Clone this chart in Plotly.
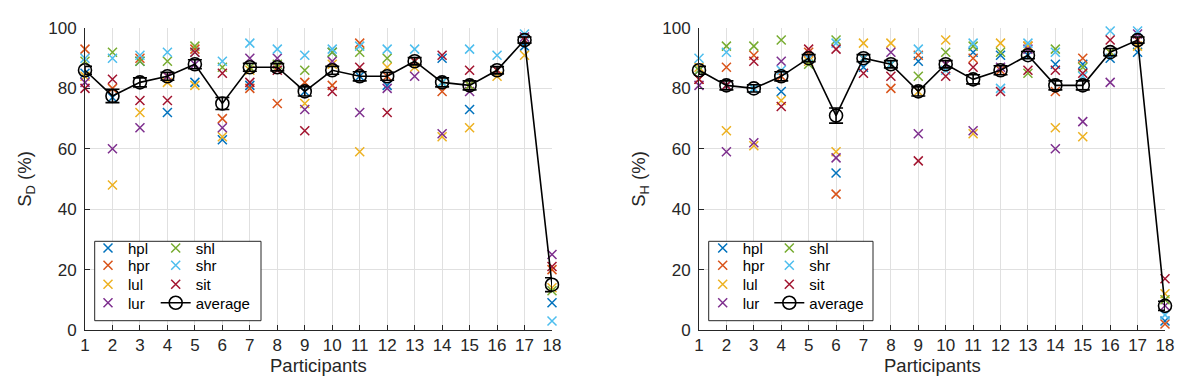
import plotly.graph_objects as go

participants = list(range(1, 19))
series_names = ["hpl", "hpr", "lul", "lur", "shl", "shr", "sit"]
series_colors = ["#0072BD", "#D95319", "#EDB120", "#7E2F8E", "#77AC30", "#4DBEEE", "#A2142F"]

# ---- S_D (left panel) ----
sd_hpl = [85, 77, 89, 72, 82, 63, 81, 87, 79, 92, 84, 81, 89, 90, 73, 86, 94, 9]
sd_hpr = [93, 80, 90, 84, 93, 70, 80, 75, 82, 81, 95, 84, 89, 79, 81, 86, 96, 20]
sd_lul = [84, 48, 72, 82, 81, 64, 86, 87, 75, 88, 59, 87, 87, 64, 67, 84, 91, 14]
sd_lur = [82, 60, 67, 84, 88, 67, 90, 90, 73, 89, 72, 80, 84, 65, 79, 86, 97, 25]
sd_shl = [89, 92, 89, 89, 94, 87, 87, 88, 86, 92, 92, 90, 89, 82, 81, 86, 96, 13]
sd_shr = [90, 90, 91, 92, 92, 89, 95, 93, 91, 93, 94, 93, 93, 82, 93, 91, 98, 3]
sd_sit = [80, 83, 76, 76, 92, 85, 82, 86, 66, 79, 87, 72, 89, 91, 86, 86, 96, 21]
sd_avg = [86, 77.5, 82, 84, 88, 75, 87, 87, 79, 86, 84, 84, 89, 82, 81, 86, 96, 15]
sd_err = [1.3, 2.2, 1.5, 1.3, 1.5, 2.0, 1.3, 1.2, 1.5, 1.3, 1.5, 1.3, 1.2, 1.5, 1.5, 1.2, 1.0, 2.3]

# ---- S_H (right panel) ----
sh_hpl = [86, 81, 80, 79, 90, 52, 87, 88, 89, 88, 92, 91, 91, 88, 88, 90, 92, 3]
sh_hpr = [83, 87, 91, 84, 92, 45, 90, 80, 91, 88, 90, 86, 94, 79, 90, 92, 96, 2]
sh_lul = [87, 66, 61, 76, 89, 59, 95, 95, 79, 96, 65, 95, 94, 67, 64, 92, 94, 12]
sh_lur = [81, 59, 62, 89, 90, 57, 90, 92, 65, 88, 66, 87, 93, 60, 69, 82, 98, 8]
sh_shl = [86, 94, 94, 96, 88, 96, 90, 88, 84, 92, 94, 92, 85, 93, 87, 92, 96, 10]
sh_shr = [90, 92, 80, 86, 90, 95, 90, 88, 93, 86, 95, 80, 95, 92, 84, 99, 99, 5]
sh_sit = [83, 81, 89, 74, 93, 93, 85, 84, 56, 84, 87, 79, 86, 86, 85, 96, 96, 17]
sh_avg = [86, 81, 80, 84, 90, 71, 90, 88, 79, 88, 83, 86, 91, 81, 81, 92, 96, 8]
sh_err = [1.3, 1.5, 1.2, 1.5, 1.2, 2.5, 1.2, 1.2, 1.5, 1.2, 1.5, 1.5, 1.2, 1.5, 1.5, 1.2, 1.0, 1.5]

sd_series = [sd_hpl, sd_hpr, sd_lul, sd_lur, sd_shl, sd_shr, sd_sit]
sh_series = [sh_hpl, sh_hpr, sh_lul, sh_lur, sh_shl, sh_shr, sh_sit]

W, H = 1191, 387
FONT = "Liberation Sans, Arial, Helvetica, sans-serif"
AX = "#262626"
GRID = "#e0e0e0"

# legend grid: (row, column) of each entry inside the 2-column legend box
legend_cells = {"hpl": (0, 0), "hpr": (1, 0), "lul": (2, 0), "lur": (3, 0),
                "shl": (0, 1), "shr": (1, 1), "sit": (2, 1), "average": (3, 1)}
entry_order = series_names + ["average"]


def legend_id(panel, name):
    n = panel * 8 + entry_order.index(name) + 1
    return "legend" if n == 1 else f"legend{n}"


fig = go.Figure()

panels = [("x", "y", sd_series, sd_avg, sd_err), ("x2", "y2", sh_series, sh_avg, sh_err)]
for p, (xa, ya, series, avg, err) in enumerate(panels):
    for name, color, vals in zip(series_names, series_colors, series):
        fig.add_trace(go.Scatter(
            x=participants, y=vals, mode="markers", name=name,
            xaxis=xa, yaxis=ya, cliponaxis=False,
            legend=legend_id(p, name),
            marker=dict(symbol="x-thin", size=9, color=color,
                        line=dict(color=color, width=1.5)),
        ))
    fig.add_trace(go.Scatter(
        x=participants, y=avg, mode="lines+markers", name="average",
        xaxis=xa, yaxis=ya, cliponaxis=False,
        legend=legend_id(p, "average"),
        line=dict(color="black", width=1.6),
        marker=dict(symbol="circle-open", size=13, color="black",
                    line=dict(color="black", width=1.6)),
        error_y=dict(type="data", array=err, visible=True, color="black",
                     thickness=1.6, width=7),
    ))

x_doms = [[77 / W, 544 / W], [691 / W, 1157 / W]]
y_dom = [65 / H, 367 / H]

TICK_SIZE = 17
LABEL_SIZE = 18.5

common_x = dict(range=[1, 18], tickmode="array", tickvals=participants,
                ticktext=[str(v) for v in participants],
                showgrid=True, gridcolor=GRID, gridwidth=1, zeroline=False,
                showline=True, linecolor=AX, linewidth=1,
                ticks="inside", ticklen=5, tickcolor=AX, tickwidth=1,
                tickfont=dict(family=FONT, size=TICK_SIZE, color=AX),
                automargin=False)
common_y = dict(range=[0, 100], tickmode="array", tickvals=[0, 20, 40, 60, 80, 100],
                showgrid=True, gridcolor=GRID, gridwidth=1, zeroline=False,
                showline=True, linecolor=AX, linewidth=1,
                ticks="inside", ticklen=5, tickcolor=AX, tickwidth=1,
                ticklabelstandoff=4,
                tickfont=dict(family=FONT, size=TICK_SIZE, color=AX),
                automargin=False)

fig.update_layout(
    width=W, height=H,
    margin=dict(l=0, r=0, t=0, b=0),
    paper_bgcolor="white", plot_bgcolor="white",
    xaxis=dict(domain=x_doms[0], anchor="y", **common_x),
    yaxis=dict(domain=y_dom, anchor="x",
               title=dict(text="S<sub>D</sub> (%)", font=dict(family=FONT, size=LABEL_SIZE, color=AX), standoff=11),
               **common_y),
    xaxis2=dict(domain=x_doms[1], anchor="y2", **common_x),
    yaxis2=dict(domain=y_dom, anchor="x2",
                title=dict(text="S<sub>H</sub> (%)", font=dict(family=FONT, size=LABEL_SIZE, color=AX), standoff=11),
                **common_y),
    showlegend=True,
)

# x-axis titles
for dom in x_doms:
    fig.add_annotation(text="Participants", xref="paper", yref="paper",
                       x=(dom[0] + dom[1]) / 2, y=1 - 357 / H,
                       xanchor="center", yanchor="middle", showarrow=False,
                       font=dict(family=FONT, size=LABEL_SIZE, color=AX))

# legend boxes (white background with dark border)
boxes = [(86.7, 253.0), (700.7, 865.0)]
for bx0, bx1 in boxes:
    fig.add_shape(type="rect", xref="paper", yref="paper",
                  x0=bx0 / W, x1=bx1 / W, y0=1 - 312.7 / H, y1=1 - 233.3 / H,
                  line=dict(color=AX, width=1), fillcolor="white", layer="above")

row_centers = [240.3, 257.5, 276.5, 295.0]
col_left = [[80.0, 147.7], [694.7, 761.3]]
legend_layout = {}
for p in range(2):
    for name in entry_order:
        r, c = legend_cells[name]
        legend_layout[legend_id(p, name)] = dict(
            x=col_left[p][c] / W, y=1 - row_centers[r] / H,
            xanchor="left", yanchor="middle", orientation="v",
            bgcolor="rgba(0,0,0,0)", borderwidth=0,
            font=dict(family=FONT, size=15, color="black"),
            itemclick=False, itemdoubleclick=False,
        )
fig.update_layout(**legend_layout)

fig.write_html("out.html")
